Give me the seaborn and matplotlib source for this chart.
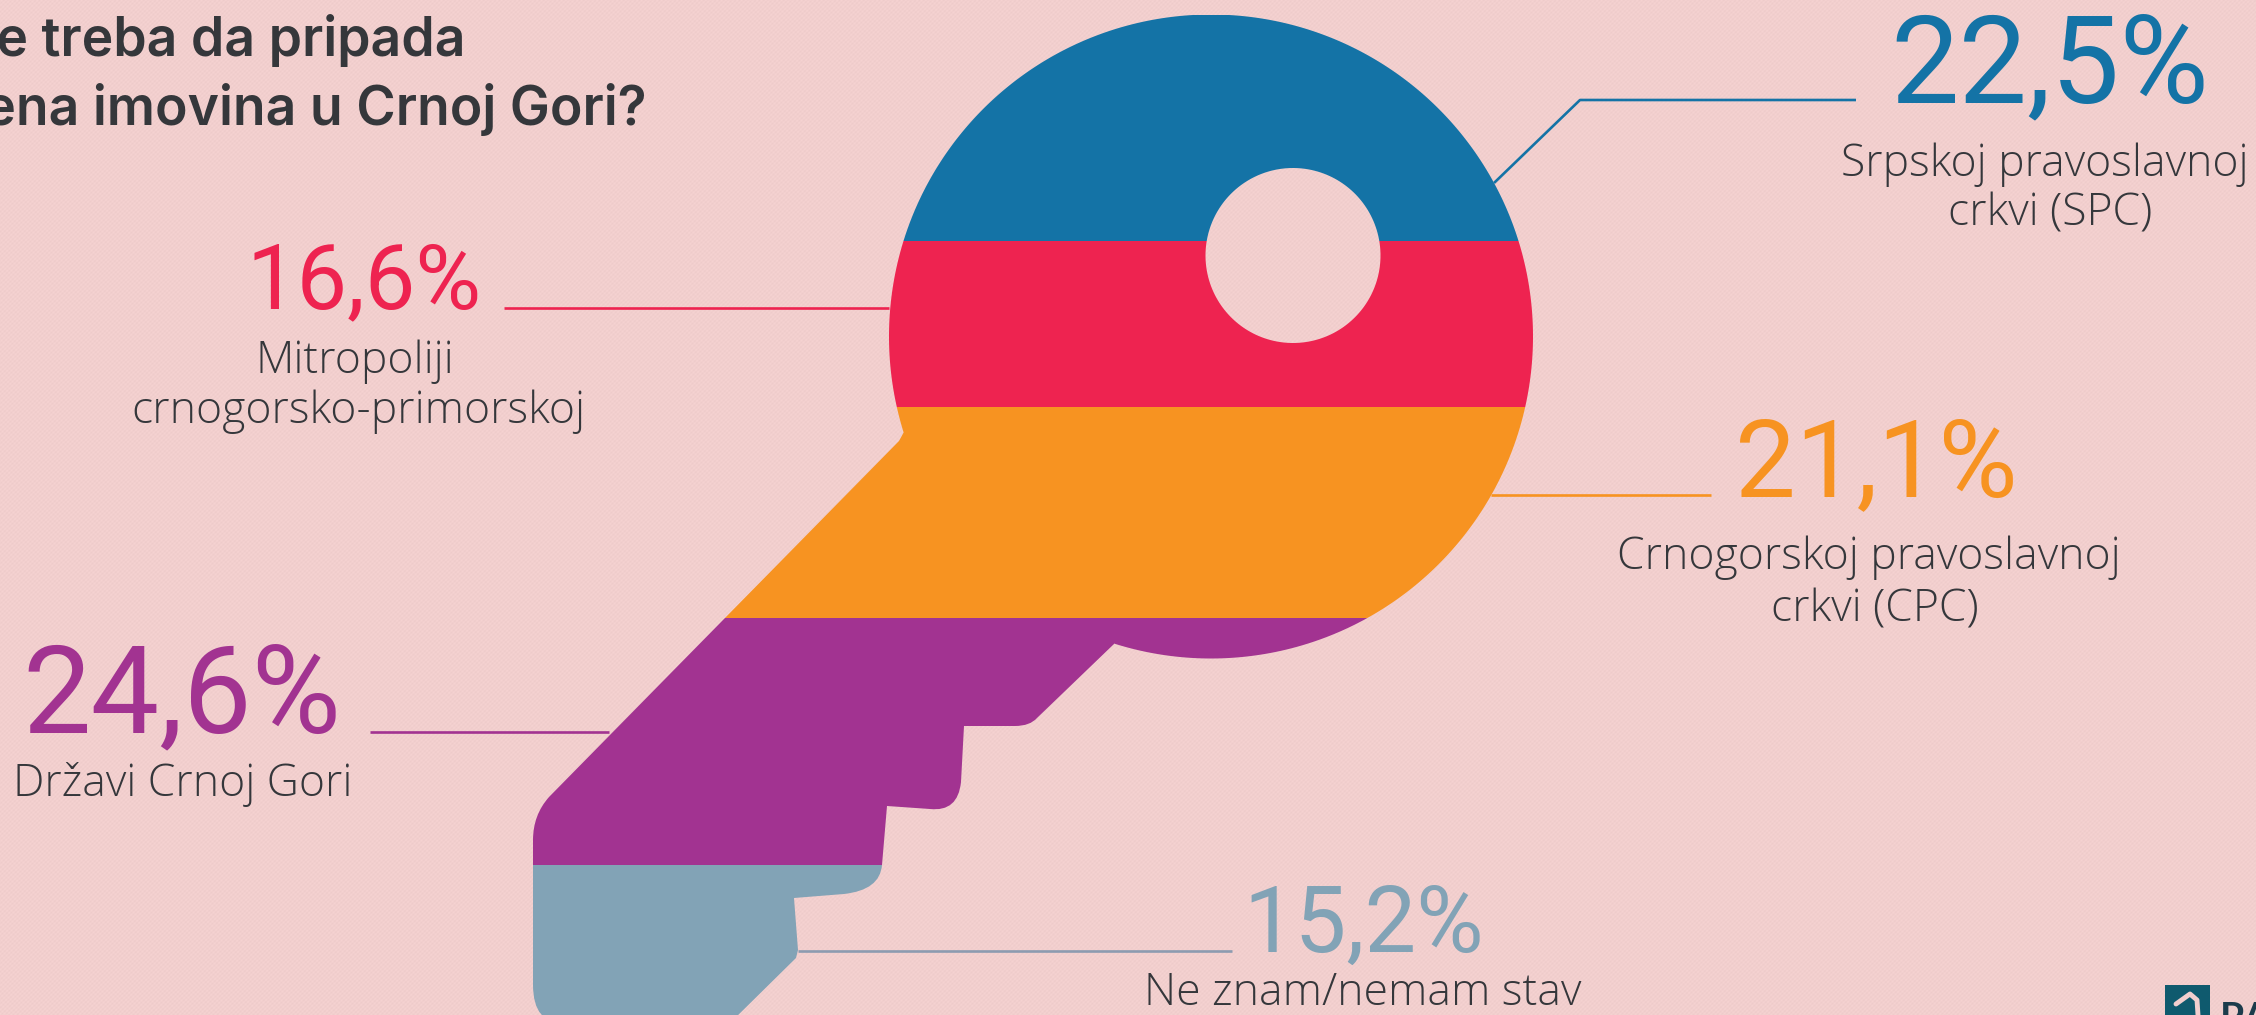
import numpy as np
import pandas as pd
import matplotlib
matplotlib.use("Agg")
import matplotlib.pyplot as plt
from matplotlib.path import Path
from matplotlib.patches import Rectangle
from matplotlib.transforms import Affine2D
import seaborn as sns

# ---- data (top to bottom in the key) ----
answers = ["Srpskoj pravoslavnoj\ncrkvi (SPC)", "Mitropoliji\ncrnogorsko-primorskoj",
           "Crnogorskoj pravoslavnoj\ncrkvi (CPC)", "Državi Crnoj Gori", "Ne znam/nemam stav"]
shares = [22.5, 16.6, 21.1, 24.6, 15.2]
share_labels = ["22,5%", "16,6%", "21,1%", "24,6%", "15,2%"]
band_colors = ["#1473A6", "#EE2350", "#F79321", "#A23391", "#82A3B6"]
title_lines = ["Kome treba da pripada", "crkvena imovina u Crnoj Gori?"]

W, H = 2256, 1015
BG = "#F2CFCE"
INK = "#35373B"
TITLE_FONT = "Inter"
NUM_FONT = "Roboto"
LABEL_FONT = "Open Sans"

sns.set_theme(style="white")
plt.rcParams["font.family"] = ["Lato", "DejaVu Sans"]
fig = plt.figure(figsize=(W / 100, H / 100), dpi=100, facecolor=BG)

# woven paper texture of the background
yy, xx = np.mgrid[0:H, 0:W]
weave = 2.2 * np.sin((xx + yy) * 2 * np.pi / 4.0) + 1.5 * np.sin((xx - yy) * 2 * np.pi / 5.0)
base_rgb = np.array([242, 207, 206], dtype=float)
tex = np.clip(base_rgb[None, None, :] + weave[:, :, None], 0, 255).astype(np.uint8)
fig.figimage(tex, 0, 0, origin="upper", zorder=-5)

ax = fig.add_axes([0, 0, 1, 1])
ax.patch.set_alpha(0)
px = Affine2D().scale(1, -1).translate(0, H)

# ---- stacked bar, one band per answer, drawn from the values ----
frame = pd.DataFrame({"answer": answers, "share": shares, "col": ["all"] * len(shares)})
base = 0.0
for i in range(len(frame) - 1, -1, -1):
    row = frame.iloc[i]
    sns.barplot(x=[row["col"]], y=[row["share"]], bottom=base, color=band_colors[i],
                saturation=1, width=1.0, ax=ax, linewidth=0, zorder=2)
    base += row["share"]
px_per_unit = 10.015
ax.set_ylim((1017.0 - H) / px_per_unit, 1017.0 / px_per_unit)
ax.set_xlim(-0.5, 0.5)
ax.set_xlabel(""); ax.set_ylabel("")
ax.set_xticks([]); ax.set_yticks([])
sns.despine(ax=ax, left=True, bottom=True)

# ---- key silhouette used as the clip of the bar ----
cx, cy, r = 1211.0, 336.5, 322.0
a0 = np.arctan2(644 - cy, 1114 - cx)        # where the lower notch meets the head
a1 = np.arctan2(433 - cy, 902 - cx) - 2 * np.pi
angles = np.linspace(a0, a1, 700)
verts = [(cx + r * np.cos(t), cy + r * np.sin(t)) for t in angles]
codes = [Path.MOVETO] + [Path.LINETO] * (len(verts) - 1)
def L(x, y):
    verts.append((x, y)); codes.append(Path.LINETO)
def Q(cxx, cyy, x, y):
    verts.extend([(cxx, cyy), (x, y)]); codes.extend([Path.CURVE3, Path.CURVE3])
L(899, 441); L(549, 797)
Q(533, 815, 533, 840)
L(533, 985)
Q(533, 1024, 565, 1024)
L(729, 1024)
L(796, 958); L(798, 950); L(794, 898); L(844, 894)
Q(880, 890, 882, 865)
L(887, 806); L(930, 809)
Q(958, 812, 961, 782)
L(964, 726); L(1015, 726)
Q(1030, 726, 1037, 718)
L(1114, 644)
verts.append(verts[0]); codes.append(Path.CLOSEPOLY)
hole_t = np.linspace(0, 2 * np.pi, 240)   # opposite direction: stays empty
hx, hy, hr = 1293.0, 255.5, 87.5
hole = [(hx + hr * np.cos(t), hy + hr * np.sin(t)) for t in hole_t]
verts += hole
codes += [Path.MOVETO] + [Path.LINETO] * (len(hole) - 2) + [Path.CLOSEPOLY]
key_path = Path(np.array(verts), codes)
for bar in ax.patches:
    bar.set_clip_path(key_path, px)

# ---- leader lines ----
leaders = [
    ([1494, 1580, 1856], [183, 100, 100], band_colors[0]),
    ([889, 504], [308, 308], band_colors[1]),
    ([1491, 1711], [495, 495], band_colors[2]),
    ([609, 370], [732, 732], band_colors[3]),
    ([798, 1232], [951, 951], "#8C9BB0"),
]
for xs, ys, c in leaders:
    ax.plot(xs, ys, color=c, lw=1.9, transform=px, solid_capstyle="butt", zorder=1)

# ---- numbers and captions ----
num_pos = [(2050, 102, 122), (364, 308, 90), (1876, 496, 108), (182, 732, 122), (1364, 952, 92)]
for (x, y, fs), s, c in zip(num_pos, share_labels, band_colors):
    ax.text(x, y, s, color=c, ha="center", va="baseline", transform=px,
            fontsize=fs * 0.72, family=NUM_FONT, clip_on=False)
cap_pos = [([2045, 2050], [176, 226]), ([355, 358], [373, 423]), ([1869, 1875], [569, 621]),
           ([183], [796]), ([1363], [1005])]
for (xs, ys), s in zip(cap_pos, answers):
    for x, y, line in zip(xs, ys, s.split("\n")):
        ax.text(x, y, line, color=INK, ha="center", va="baseline", transform=px,
                fontsize=32, family=LABEL_FONT, weight="light", clip_on=False)

# ---- title, cut by the left edge as in the source ----
ax.text(466, 56, title_lines[0], color=INK, ha="right", va="baseline", transform=px,
        fontsize=38.5, family=TITLE_FONT, weight="semibold", clip_on=False)
ax.text(647, 125, title_lines[1], color=INK, ha="right", va="baseline", transform=px,
        fontsize=38.5, family=TITLE_FONT, weight="semibold", clip_on=False)

# ---- logo, cut by the lower edge ----
ax.add_patch(Rectangle((2165, 985), 45, 60, transform=px, facecolor="#0F5A6E", edgecolor="none", zorder=3))
ax.plot([2176, 2190, 2197, 2198], [1004, 994, 1000, 1015], color=BG, lw=3.5, transform=px, zorder=4)
ax.text(2220, 1030, "PA", color="#1C3C4C", ha="left", va="baseline", transform=px,
        fontsize=28, family="Lato", weight="bold", clip_on=False)

fig.savefig("out.png", dpi=100, facecolor=BG)
